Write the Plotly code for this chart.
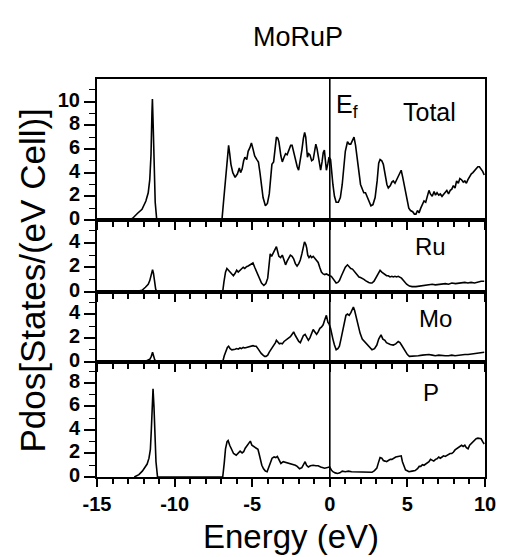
import plotly.graph_objects as go
from plotly.subplots import make_subplots

# ---------------- data ----------------
energy_total = [
    -12.9, -12.7, -12.4, -12.1, -11.85, -11.7, -11.6, -11.52, -11.46, -11.43,
    -11.38, -11.32, -11.25, -11.15, -6.95, -6.85, -6.73, -6.6, -6.52, -6.45,
    -6.37, -6.25, -6.10, -5.95, -5.83, -5.75, -5.65, -5.55, -5.47, -5.35,
    -5.26, -5.15, -5.05, -4.95, -4.84, -4.7, -4.6, -4.5, -4.42, -4.3,
    -4.15, -4.02, -3.9, -3.8, -3.73, -3.62, -3.52, -3.44, -3.35, -3.28,
    -3.15, -3.06, -2.95, -2.85, -2.75, -2.64, -2.52, -2.43, -2.32, -2.22,
    -2.1, -2.01, -1.9, -1.8, -1.7, -1.62, -1.55, -1.44, -1.36, -1.28,
    -1.17, -1.07, -0.98, -0.9, -0.82, -0.75, -0.67, -0.59, -0.5, -0.42,
    -0.35, -0.28, -0.22, -0.12, -0.05, 0.05, 0.12, 0.2, 0.3, 0.41,
    0.55, 0.68, 0.8, 0.89, 1.0, 1.14, 1.25, 1.35, 1.45, 1.56,
    1.66, 1.77, 1.88, 1.98, 2.1, 2.19, 2.3, 2.4, 2.52, 2.65,
    2.78, 2.92, 3.05, 3.15, 3.24, 3.35, 3.45, 3.58, 3.68, 3.77,
    3.9, 4.0, 4.09, 4.2, 4.3, 4.41, 4.52, 4.6, 4.7, 4.83,
    4.95, 5.09, 5.2, 5.34, 5.45, 5.55, 5.65, 5.75, 5.86, 5.95,
    6.07, 6.18, 6.28, 6.39, 6.48, 6.6, 6.72, 6.81, 6.91, 7.02,
    7.12, 7.23, 7.35, 7.45, 7.54, 7.65, 7.76, 7.86, 7.96, 8.07,
    8.17, 8.28, 8.38, 8.49, 8.6, 8.7, 8.8, 8.9, 9.01, 9.12,
    9.22, 9.33, 9.43, 9.54, 9.64, 9.75, 9.85, 9.95,
]
dos_total = [
    0, 0.15, 0.55, 0.9, 1.6, 2.3, 3.4, 5.5, 9.0, 10.2,
    8.0, 4.0, 1.5, 0, 0, 1.5, 3.3, 5.2, 6.3, 5.6,
    4.7, 4.0, 3.6, 3.9, 4.4, 4.0, 4.3, 5.0, 5.3, 5.1,
    5.8, 6.1, 6.5, 6.0, 5.4, 5.1, 4.9, 4.0, 3.0, 1.9,
    1.2, 1.4, 2.2, 3.6, 4.7, 4.9, 6.2, 7.0, 6.9, 6.6,
    5.4, 4.9, 5.3, 5.6, 5.5, 5.9, 6.3, 6.3, 5.6, 5.0,
    4.5, 4.2, 5.0, 5.9, 6.9, 7.4, 7.0, 5.3, 5.6, 5.5,
    5.0, 5.1, 5.8, 6.4, 6.0, 5.4, 4.8, 4.2, 4.9, 5.7,
    5.9, 5.0, 4.2, 4.8, 5.3, 5.1, 4.0, 3.0, 2.0, 1.5,
    1.5, 1.9, 3.0, 4.2, 5.8, 6.6, 6.4, 6.4, 6.7, 7.0,
    6.3, 5.2, 4.0, 3.0, 2.6, 2.3, 2.3, 2.0, 1.6, 1.2,
    1.3, 1.9, 3.3, 4.8, 5.1, 5.0, 4.7, 3.7, 3.0, 2.7,
    2.9, 3.2, 3.3, 3.1, 3.4, 3.6, 3.9, 4.2, 3.6, 2.7,
    1.8, 1.0, 0.8, 0.7, 0.5, 0.5, 0.8, 0.6, 1.0, 1.3,
    1.6, 1.5, 2.0, 2.5, 2.2, 2.0, 2.4, 2.1, 2.3, 2.1,
    2.2, 2.0, 2.2, 2.4, 2.5, 2.2, 2.5, 2.6, 2.9, 2.7,
    3.3, 3.1, 3.5, 3.4, 3.2, 3.3, 3.1, 3.4, 3.7, 3.9,
    4.0, 4.2, 4.3, 4.5, 4.5, 4.3, 4.1, 3.8,
]

energy_ru = [
    -12.5, -12.1, -11.88, -11.7, -11.6, -11.5, -11.42, -11.36, -11.3, -11.22,
    -11.15, -6.9, -6.82, -6.72, -6.63, -6.52, -6.42, -6.3, -6.21, -6.1,
    -6.0, -5.9, -5.79, -5.68, -5.58, -5.48, -5.37, -5.26, -5.16, -5.05,
    -4.95, -4.84, -4.74, -4.63, -4.53, -4.4, -4.25, -4.12, -4.0, -3.92,
    -3.84, -3.75, -3.65, -3.55, -3.44, -3.36, -3.28, -3.17, -3.06, -2.95,
    -2.85, -2.75, -2.64, -2.54, -2.43, -2.33, -2.22, -2.11, -2.0, -1.9,
    -1.8, -1.71, -1.63, -1.55, -1.49, -1.42, -1.34, -1.25, -1.17, -1.07,
    -0.96, -0.85, -0.75, -0.65, -0.54, -0.43, -0.33, -0.22, -0.12, -0.01,
    0.1, 0.2, 0.31, 0.41, 0.52, 0.62, 0.75, 0.89, 1.0, 1.14,
    1.25, 1.35, 1.46, 1.56, 1.67, 1.77, 1.88, 1.98, 2.09, 2.2,
    2.3, 2.4, 2.51, 2.62, 2.72, 2.85, 2.99, 3.12, 3.24, 3.35,
    3.45, 3.56, 3.66, 3.77, 3.88, 4.0, 4.09, 4.2, 4.3, 4.41,
    4.51, 4.62, 4.72, 4.83, 4.95, 5.13, 5.3, 5.55, 5.75, 5.97,
    6.2, 6.4, 6.6, 6.8, 7.0, 7.23, 7.45, 7.65, 7.86, 8.1,
    8.3, 8.5, 8.7, 8.9, 9.1, 9.33, 9.55, 9.75, 9.95,
]
dos_ru = [
    0, 0.1, 0.35, 0.6, 0.9, 1.4, 1.8, 1.5, 0.8, 0.2,
    0, 0, 0.8, 1.6, 1.9, 1.75, 1.6, 1.45, 1.3, 1.5,
    1.75, 1.6, 1.75, 1.85, 2.0, 1.9, 2.05, 2.1, 2.2, 2.25,
    2.35, 2.0, 1.7, 1.35, 1.0, 0.7, 0.5, 0.65, 1.1, 2.0,
    3.1, 2.9, 3.2, 3.4, 3.7, 3.3, 2.9, 2.8, 3.0, 2.6,
    2.2, 2.5, 2.8, 3.0, 2.9, 2.7, 2.3, 2.1, 2.3, 2.6,
    3.1, 3.6, 4.1, 3.9, 3.6, 3.0, 2.8, 2.95, 2.8, 2.9,
    2.7, 2.6, 2.4, 2.0, 1.6, 1.45, 1.4, 1.45, 1.35, 1.3,
    1.25, 1.1, 0.85, 0.7, 0.75, 0.9, 1.3, 1.7, 2.0, 2.2,
    2.05, 1.9, 1.85, 1.7, 1.5, 1.3, 1.2, 1.15, 1.1, 1.0,
    0.9, 0.8, 0.75, 0.7, 0.7, 0.85, 1.2, 1.5, 1.75, 1.6,
    1.5, 1.4, 1.3, 1.3, 1.2, 1.25, 1.2, 1.25, 1.2, 1.25,
    1.2, 1.1, 0.95, 0.8, 0.6, 0.45, 0.4, 0.4, 0.45, 0.5,
    0.55, 0.6, 0.6, 0.55, 0.6, 0.6, 0.65, 0.6, 0.7, 0.65,
    0.7, 0.7, 0.75, 0.7, 0.75, 0.7, 0.8, 0.85, 0.85,
]

energy_mo = [
    -12.3, -11.8, -11.6, -11.5, -11.42, -11.35, -11.28, -11.15, -6.9, -6.8,
    -6.7, -6.6, -6.52, -6.42, -6.31, -6.21, -6.1, -6.0, -5.9, -5.79,
    -5.69, -5.58, -5.48, -5.37, -5.26, -5.16, -5.05, -4.95, -4.84, -4.74,
    -4.63, -4.53, -4.42, -4.3, -4.2, -4.11, -4.0, -3.9, -3.8, -3.7,
    -3.6, -3.5, -3.44, -3.35, -3.25, -3.15, -3.06, -2.95, -2.85, -2.75,
    -2.65, -2.54, -2.43, -2.33, -2.22, -2.11, -2.0, -1.9, -1.8, -1.7,
    -1.59, -1.49, -1.38, -1.28, -1.17, -1.07, -0.96, -0.85, -0.75, -0.64,
    -0.54, -0.43, -0.33, -0.22, -0.12, -0.05, 0.05, 0.12, 0.2, 0.3,
    0.41, 0.52, 0.62, 0.72, 0.83, 0.94, 1.04, 1.14, 1.25, 1.35,
    1.45, 1.52, 1.6, 1.67, 1.74, 1.81, 1.95, 2.09, 2.24, 2.4,
    2.55, 2.72, 2.88, 3.03, 3.15, 3.3, 3.42, 3.55, 3.65, 3.77,
    3.9, 4.09, 4.25, 4.41, 4.52, 4.62, 4.75, 4.86, 5.0, 5.13,
    5.3, 5.5, 5.7, 5.97, 6.2, 6.39, 6.6, 6.8, 7.02, 7.23,
    7.44, 7.65, 7.86, 8.07, 8.28, 8.49, 8.7, 8.91, 9.12, 9.33,
    9.54, 9.75, 9.95,
]
dos_mo = [
    0, 0.08, 0.2, 0.45, 0.8, 0.5, 0.15, 0, 0, 0.5,
    0.9, 1.2, 1.3, 1.1, 1.0, 1.0, 1.05, 1.1, 1.05, 1.15,
    1.1, 1.2, 1.15, 1.2, 1.25, 1.3, 1.35, 1.35, 1.3, 1.3,
    1.1, 0.85, 0.7, 0.55, 0.45, 0.45, 0.55, 0.8, 1.0, 1.1,
    1.4, 1.6, 1.8, 1.6, 1.5, 1.55, 1.5, 1.7, 1.8, 1.9,
    2.0, 2.1, 2.3, 2.5, 2.2, 1.9, 1.7, 1.6, 1.9, 2.2,
    2.3, 2.0, 1.8, 2.0, 2.3, 2.7, 2.5, 2.3, 2.5, 2.8,
    2.9, 3.1, 3.5, 3.9, 3.3, 3.2, 2.8, 2.3, 1.9, 1.4,
    1.0, 1.1, 1.3, 1.9, 2.5, 3.3, 3.9, 4.0, 3.9, 4.1,
    4.4, 4.6, 4.3, 3.9, 3.4, 3.1, 2.4, 1.9, 1.7, 1.5,
    1.3, 1.0, 1.1, 1.4, 1.9, 2.25, 1.9, 1.8, 1.6, 1.5,
    1.45, 1.4, 1.5, 1.7, 1.6, 1.4, 1.1, 0.85, 0.6, 0.45,
    0.45, 0.5, 0.5, 0.55, 0.6, 0.6, 0.55, 0.5, 0.55, 0.5,
    0.5, 0.5, 0.55, 0.5, 0.55, 0.55, 0.6, 0.6, 0.65, 0.7,
    0.7, 0.75, 0.8,
]

energy_p = [
    -12.6, -12.3, -12.08, -11.9, -11.77, -11.65, -11.56, -11.5, -11.44, -11.39,
    -11.33, -11.27, -11.2, -11.1, -6.9, -6.8, -6.72, -6.62, -6.55, -6.45,
    -6.35, -6.2, -6.03, -5.9, -5.78, -5.65, -5.55, -5.45, -5.37, -5.25,
    -5.12, -5.02, -4.9, -4.75, -4.63, -4.56, -4.49, -4.38, -4.27, -4.15,
    -4.04, -3.94, -3.84, -3.72, -3.59, -3.48, -3.38, -3.27, -3.15, -3.0,
    -2.85, -2.7, -2.54, -2.38, -2.22, -2.1, -1.95, -1.8, -1.68, -1.59,
    -1.5, -1.38, -1.25, -1.07, -0.9, -0.75, -0.59, -0.45, -0.33, -0.15,
    -0.01, 0.1, 0.2, 0.35, 0.5, 0.65, 0.8, 1.0, 1.2, 1.4,
    1.6, 1.8, 2.0, 2.2, 2.4, 2.6, 2.72, 2.88, 3.03, 3.13,
    3.24, 3.35, 3.45, 3.56, 3.66, 3.77, 3.9, 4.0, 4.1, 4.25,
    4.4, 4.52, 4.6, 4.68, 4.78, 4.88, 4.96, 5.1, 5.3, 5.5,
    5.65, 5.76, 5.86, 5.97, 6.07, 6.18, 6.28, 6.39, 6.49, 6.6,
    6.7, 6.81, 6.91, 7.02, 7.12, 7.23, 7.33, 7.44, 7.54, 7.65,
    7.75, 7.86, 7.96, 8.07, 8.17, 8.28, 8.38, 8.49, 8.59, 8.7,
    8.8, 8.91, 9.01, 9.12, 9.22, 9.33, 9.43, 9.54, 9.64, 9.75,
    9.85, 9.95,
]
dos_p = [
    0, 0.2, 0.5, 0.8, 1.1, 1.6, 2.35, 4.0, 6.5, 7.5,
    6.0, 3.5, 1.3, 0, 0, 1.2, 2.4, 3.0, 3.1, 2.7,
    2.35, 2.0, 1.85, 2.0, 2.2, 2.05, 2.15, 2.45, 2.6, 2.8,
    3.05, 2.7, 2.6, 2.4, 2.35, 2.0, 1.5, 1.0, 0.7, 0.5,
    0.45, 0.8, 1.3, 1.6, 1.7, 1.65, 1.75, 1.5, 1.15, 1.3,
    1.25, 1.2, 1.15, 1.1, 1.0, 0.9, 0.7, 0.8, 1.1, 1.3,
    1.0, 0.85, 0.95, 1.0, 0.95, 0.95, 0.85, 0.8, 0.75, 0.8,
    0.85, 0.6, 0.45, 0.35, 0.3, 0.35, 0.5, 0.45, 0.5, 0.45,
    0.45, 0.45, 0.4, 0.45, 0.4, 0.4, 0.4, 0.55, 0.75, 1.2,
    1.65, 1.6, 1.4, 1.35, 1.3, 1.4, 1.5, 1.5, 1.6, 1.7,
    1.75, 1.8, 1.8, 1.3, 0.9, 0.6, 0.55, 0.45, 0.5, 0.55,
    0.7, 0.9, 0.9, 1.05, 1.0, 1.1, 1.2, 1.3, 1.5, 1.4,
    1.35, 1.5, 1.55, 1.7, 1.6, 1.7, 1.8, 1.75, 1.85, 1.9,
    2.0, 2.0, 2.1, 2.3, 2.4, 2.5, 2.6, 2.7, 2.6, 2.7,
    2.5, 2.4, 2.7, 2.85, 2.9, 3.1, 3.25, 3.3, 3.3, 3.25,
    3.0, 2.8,
]

panel_names = ["Total", "Ru", "Mo", "P"]
panel_ymax = [11.9, 5.9, 5.9, 9.8]
panel_yticks = [[0, 2, 4, 6, 8, 10], [0, 2, 4], [0, 2, 4], [0, 2, 4, 6, 8]]
x_range = [-15, 10]
x_tickvals = [-15, -10, -5, 0, 5, 10]
x_ticktext = ["-15", "-10", "-5", "0", "5", "10"]

series = [(energy_total, dos_total), (energy_ru, dos_ru),
          (energy_mo, dos_mo), (energy_p, dos_p)]

# ---------------- figure ----------------
W, H = 508, 557
ML, MR, MT, MB = 97, 14, 79, 80
PW, PH = W - ML - MR, H - MT - MB

def px(xp):
    return (xp - ML) / PW

def py(yp):
    return (H - MB - yp) / PH

FONT = "Liberation Sans"

fig = make_subplots(rows=4, cols=1, shared_xaxes=True, vertical_spacing=0,
                    row_heights=[141, 71.5, 70.2, 115.3])

for i, (e, d) in enumerate(series):
    fig.add_trace(go.Scatter(x=e, y=d, mode="lines",
                             line=dict(color="black", width=1.6),
                             showlegend=False, hoverinfo="skip"),
                  row=i + 1, col=1)

for i in range(4):
    fig.update_yaxes(range=[0, panel_ymax[i]],
                     tickmode="array", tickvals=panel_yticks[i],
                     ticktext=["<b>%d</b>" % v for v in panel_yticks[i]],
                     ticks="outside", ticklen=11, tickwidth=1.6, tickcolor="black",
                     minor=dict(dtick=1, tick0=0, ticks="outside", ticklen=6,
                                tickwidth=1.4, tickcolor="black"),
                     showline=True, linewidth=2, linecolor="black", mirror=True,
                     showgrid=False, zeroline=False,
                     tickfont=dict(family=FONT, size=20, color="black"),
                     ticklabelshift=-2,
                     row=i + 1, col=1)
    fig.update_xaxes(range=x_range,
                     tickmode="array", tickvals=x_tickvals,
                     ticktext=["<b>%s</b>" % t for t in x_ticktext],
                     ticks="outside", ticklen=8, tickwidth=2, tickcolor="black",
                     minor=dict(dtick=1, tick0=0, ticks="outside", ticklen=5,
                                tickwidth=1.5, tickcolor="black"),
                     showline=True, linewidth=2, linecolor="black", mirror=True,
                     showgrid=False, zeroline=False,
                     tickfont=dict(family=FONT, size=20, color="black"),
                     row=i + 1, col=1)

# Fermi level line across all panels
fig.add_shape(type="line", xref="x4", yref="paper", x0=0, x1=0, y0=0, y1=1,
              line=dict(color="black", width=1.6))

label_pos = [(437, 112), (438, 246), (443, 318), (438.5, 392)]
label_size = [25, 24, 24, 24]
annotations = []
for name, (lx, ly), fs in zip(panel_names, label_pos, label_size):
    annotations.append(dict(text=name, xref="paper", yref="paper",
                            x=px(lx), y=py(ly), xanchor="center", yanchor="middle",
                            showarrow=False,
                            font=dict(family=FONT, size=fs, color="black")))
annotations.append(dict(text="E<sub>f</sub>", xref="paper", yref="paper",
                        x=px(340), y=py(106), xanchor="left", yanchor="middle",
                        showarrow=False,
                        font=dict(family=FONT, size=25, color="black")))
annotations.append(dict(text="MoRuP", xref="paper", yref="paper",
                        x=px(303), y=py(37), xanchor="center", yanchor="middle",
                        showarrow=False,
                        font=dict(family=FONT, size=27, color="black")))
annotations.append(dict(text="Energy (eV)", xref="paper", yref="paper",
                        x=px(296), y=py(536), xanchor="center", yanchor="middle",
                        showarrow=False,
                        font=dict(family=FONT, size=33, color="black")))
annotations.append(dict(text="Pdos[States/(eV Cell)]", xref="paper", yref="paper",
                        x=px(31), y=py(280), xanchor="center", yanchor="middle",
                        textangle=-90, showarrow=False,
                        font=dict(family=FONT, size=35, color="black")))

fig.update_layout(width=W, height=H,
                  margin=dict(l=ML, r=MR, t=MT, b=MB, pad=0),
                  paper_bgcolor="white", plot_bgcolor="white",
                  annotations=annotations, showlegend=False)

fig.write_html("out.html", config={"displayModeBar": False})
